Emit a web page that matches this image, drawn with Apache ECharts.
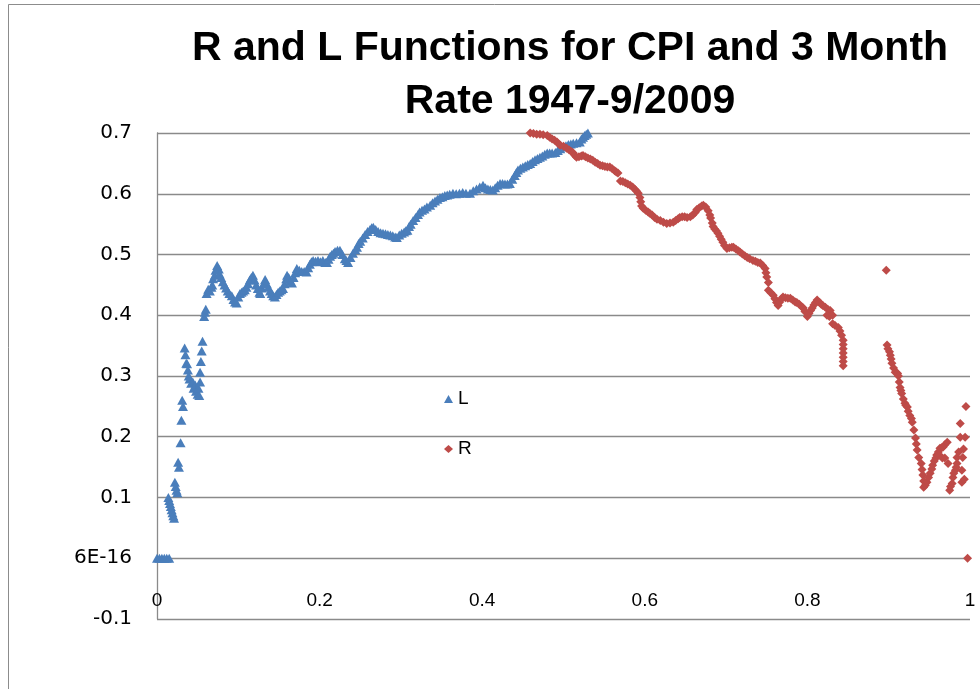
<!DOCTYPE html>
<html>
<head>
<meta charset="utf-8">
<title>R and L Functions</title>
<script src="https://cdn.jsdelivr.net/npm/echarts@6/dist/echarts.min.js"></script>
<style>
	html, body { margin: 0; padding: 0; background: #fff; }
	#main { width: 980px; height: 689px; }
</style>
</head>
<body>
<div id="main"></div>
<script>
/* global echarts */

var titleLines = ['R and L Functions for CPI and 3 Month', 'Rate 1947-9/2009']

var seriesNames = ['L', 'R']

var yTicks = [-0.1, 0, 0.1, 0.2, 0.3, 0.4, 0.5, 0.6, 0.7]
var yTickLabels = ['-0.1', '6E-16', '0.1', '0.2', '0.3', '0.4', '0.5', '0.6', '0.7']
var xTicks = [0, 0.2, 0.4, 0.6, 0.8, 1]
var xTickLabels = ['0', '0.2', '0.4', '0.6', '0.8', '1']

// L function
var lPoints = [
	[0,0],[0.003,0],[0.006,0],[0.009,0],[0.012,0],[0.015,0],
	[0.014,0.10],[0.015,0.095],[0.016,0.09],[0.017,0.085],[0.018,0.08],[0.019,0.075],[0.02,0.07],[0.021,0.066],
	[0.022,0.125],[0.023,0.118],[0.024,0.112],[0.025,0.108],
	[0.026,0.158],[0.027,0.15],[0.029,0.19],[0.03,0.227],[0.031,0.26],[0.032,0.25],
	[0.034,0.346],[0.035,0.335],[0.036,0.321],[0.037,0.32],
	[0.038,0.31],[0.039,0.30],[0.04,0.295],[0.042,0.288],[0.044,0.29],[0.045,0.28],[0.047,0.285],[0.048,0.275],[0.05,0.27],[0.052,0.268],[0.051,0.28],
	[0.053,0.29],[0.053,0.306],[0.054,0.324],[0.055,0.341],[0.056,0.357],
	[0.058,0.398],[0.059,0.405],[0.06,0.41],
	[0.061,0.436],[0.063,0.443],[0.065,0.44],[0.067,0.446],[0.068,0.45],
	[0.069,0.46],[0.071,0.466],[0.072,0.474],[0.074,0.482],[0.076,0.476],[0.077,0.468],
	[0.079,0.462],[0.081,0.455],[0.083,0.45],[0.085,0.445],[0.087,0.44],[0.089,0.436],[0.092,0.432],[0.094,0.426],[0.096,0.422],[0.098,0.42],
	[0.1,0.43],[0.102,0.436],[0.104,0.438],[0.106,0.44],[0.108,0.442],[0.11,0.446],[0.112,0.452],[0.114,0.458],[0.116,0.462],[0.118,0.466],
	[0.12,0.458],[0.122,0.45],[0.124,0.444],[0.126,0.438],[0.127,0.436],
	[0.129,0.445],[0.131,0.452],[0.133,0.459],[0.135,0.452],[0.137,0.446],[0.139,0.44],[0.141,0.436],[0.143,0.432],[0.145,0.43],
	[0.147,0.434],[0.149,0.438],[0.151,0.44],[0.153,0.442],[0.155,0.444],[0.157,0.452],[0.159,0.46],[0.16,0.466],
	[0.162,0.462],[0.164,0.456],[0.166,0.453],[0.168,0.462],[0.17,0.47],[0.172,0.477],[0.175,0.474],[0.178,0.472],[0.181,0.472],[0.184,0.471],
	[0.186,0.478],[0.188,0.484],[0.19,0.488],[0.192,0.49],[0.195,0.489],[0.198,0.49],[0.201,0.488],[0.204,0.49],[0.207,0.487],[0.209,0.487],
	[0.211,0.492],[0.213,0.497],[0.215,0.5],[0.217,0.502],[0.219,0.505],[0.222,0.507],[0.225,0.507],[0.228,0.5],[0.231,0.493],[0.233,0.49],[0.235,0.487],
	[0.238,0.495],[0.241,0.502],[0.244,0.508],[0.246,0.512],[0.248,0.518],[0.25,0.522],[0.253,0.527],[0.256,0.533],[0.259,0.538],[0.262,0.541],[0.264,0.544],[0.266,0.545],
	[0.269,0.541],[0.272,0.538],[0.275,0.536],[0.278,0.535],[0.281,0.534],[0.284,0.533],[0.287,0.532],[0.29,0.531],[0.293,0.529],[0.295,0.528],
	[0.298,0.532],[0.301,0.535],[0.304,0.537],[0.306,0.539],[0.308,0.54],[0.31,0.546],[0.312,0.55],[0.315,0.556],[0.318,0.561],[0.321,0.566],[0.323,0.57],
	[0.326,0.573],[0.329,0.575],[0.332,0.578],[0.336,0.581],[0.339,0.585],[0.342,0.588],[0.345,0.591],[0.348,0.594],[0.351,0.595],[0.354,0.597],[0.357,0.598],[0.36,0.599],
	[0.364,0.601],[0.368,0.6],[0.372,0.601],[0.376,0.602],[0.38,0.601],[0.385,0.601],[0.389,0.605],[0.393,0.608],[0.397,0.611],[0.401,0.614],
	[0.404,0.61],[0.407,0.608],[0.41,0.607],[0.413,0.606],[0.416,0.61],[0.419,0.614],[0.422,0.617],[0.425,0.617],[0.428,0.616],[0.431,0.616],[0.434,0.617],
	[0.437,0.624],[0.44,0.63],[0.442,0.635],[0.444,0.639],[0.447,0.642],[0.45,0.644],[0.453,0.646],[0.456,0.648],[0.459,0.65],
	[0.462,0.653],[0.465,0.656],[0.468,0.658],[0.471,0.66],[0.474,0.662],[0.477,0.665],[0.48,0.667],[0.483,0.667],[0.486,0.667],[0.49,0.668],
	[0.493,0.671],[0.496,0.674],[0.5,0.677],[0.503,0.679],[0.506,0.681],[0.509,0.682],[0.512,0.683],[0.516,0.684],[0.52,0.685],
	[0.522,0.69],[0.524,0.693],[0.526,0.696],[0.528,0.698],[0.53,0.7]
]

// R function
var rPoints = [
	[0.455,0.701],[0.459,0.7],[0.463,0.699],[0.467,0.698],[0.471,0.698],[0.475,0.697],[0.48,0.696],[0.483,0.693],[0.486,0.69],[0.489,0.688],
	[0.492,0.685],[0.494,0.682],[0.496,0.68],[0.5,0.678],[0.504,0.675],[0.507,0.672],[0.51,0.669],[0.512,0.667],[0.514,0.663],[0.516,0.66],
	[0.519,0.661],[0.522,0.662],[0.524,0.663],[0.527,0.661],[0.53,0.659],[0.533,0.657],[0.536,0.655],[0.539,0.652],[0.542,0.65],[0.545,0.647],
	[0.548,0.646],[0.551,0.645],[0.554,0.644],[0.557,0.644],[0.56,0.641],[0.563,0.638],[0.565,0.636],[0.567,0.634],
	[0.57,0.621],[0.573,0.62],[0.576,0.618],[0.579,0.616],[0.582,0.614],[0.585,0.611],[0.588,0.607],[0.59,0.604],[0.592,0.601],[0.594,0.594],
	[0.595,0.587],[0.596,0.58],[0.598,0.576],[0.601,0.573],[0.604,0.57],[0.606,0.568],[0.609,0.565],[0.612,0.561],[0.615,0.558],[0.619,0.556],
	[0.623,0.553],[0.627,0.551],[0.631,0.552],[0.635,0.553],[0.638,0.556],[0.641,0.559],[0.643,0.561],[0.646,0.562],[0.649,0.562],[0.652,0.561],
	[0.656,0.562],[0.659,0.565],[0.662,0.569],[0.664,0.574],[0.667,0.577],[0.67,0.58],[0.672,0.581],[0.675,0.578],[0.678,0.572],
	[0.68,0.565],[0.681,0.56],[0.683,0.552],[0.684,0.546],[0.686,0.542],[0.688,0.539],[0.69,0.535],[0.692,0.53],[0.694,0.525],[0.696,0.52],
	[0.698,0.515],[0.701,0.51],[0.704,0.511],[0.707,0.512],[0.709,0.512],[0.712,0.509],[0.715,0.506],[0.717,0.504],[0.72,0.501],[0.723,0.498],
	[0.726,0.495],[0.729,0.493],[0.733,0.49],[0.736,0.489],[0.739,0.487],[0.742,0.486],[0.745,0.482],[0.748,0.477],[0.749,0.47],[0.75,0.463],[0.752,0.454],
	[0.752,0.441],[0.755,0.437],[0.758,0.433],[0.76,0.427],[0.762,0.421],[0.764,0.416],[0.766,0.422],[0.768,0.427],[0.77,0.43],[0.773,0.429],
	[0.776,0.428],[0.779,0.428],[0.782,0.425],[0.785,0.422],[0.787,0.421],[0.79,0.418],[0.793,0.414],[0.795,0.412],[0.797,0.406],[0.8,0.398],
	[0.802,0.403],[0.804,0.408],[0.806,0.412],[0.808,0.417],[0.81,0.421],[0.812,0.425],[0.815,0.421],[0.817,0.418],[0.819,0.416],[0.822,0.413],
	[0.825,0.41],[0.828,0.408],[0.824,0.4],[0.827,0.398],[0.831,0.4],
	[0.831,0.386],[0.834,0.383],[0.838,0.38],[0.84,0.374],[0.842,0.367],[0.844,0.359],[0.844,0.352],[0.844,0.345],[0.844,0.338],[0.844,0.331],[0.844,0.324],[0.844,0.317],
	[0.897,0.474],
	[0.898,0.351],[0.899,0.345],[0.901,0.34],[0.902,0.334],[0.903,0.328],[0.904,0.321],[0.906,0.313],[0.908,0.306],[0.91,0.305],[0.911,0.304],
	[0.912,0.3],[0.913,0.29],[0.914,0.281],[0.915,0.276],[0.916,0.271],[0.918,0.262],[0.92,0.255],[0.921,0.252],[0.923,0.249],[0.924,0.242],
	[0.926,0.235],[0.928,0.23],[0.929,0.224],[0.931,0.211],[0.933,0.198],[0.934,0.188],[0.935,0.178],[0.937,0.166],[0.94,0.156],[0.941,0.146],
	[0.942,0.137],[0.943,0.127],[0.943,0.117],
	[0.945,0.12],[0.947,0.125],[0.949,0.133],[0.951,0.14],[0.953,0.147],[0.954,0.153],[0.956,0.16],[0.958,0.165],[0.959,0.17],[0.961,0.175],
	[0.963,0.181],[0.965,0.182],[0.967,0.183],[0.969,0.187],[0.972,0.191],[0.962,0.17],[0.966,0.165],[0.969,0.165],[0.973,0.156],
	[0.975,0.112],[0.976,0.118],[0.978,0.123],[0.979,0.133],[0.98,0.14],[0.982,0.145],[0.983,0.15],[0.984,0.156],[0.984,0.166],[0.986,0.175],
	[0.988,0.199],[0.988,0.222],[0.994,0.199],[0.991,0.166],[0.99,0.145],[0.99,0.125],[0.995,0.25],[0.992,0.18],[0.993,0.13],
	[0.997,0]
]

var chart = echarts.init(document.getElementById('main'), null, {renderer: 'canvas'})

function tickLabel(ticks, labels){
	return function(v){
		for(var i = 0; i < ticks.length; i++){
			if(Math.abs(ticks[i] - v) < 1e-9) return labels[i]
		}
		return ''
	}
}

var gridColor = '#8a8a8a'

chart.setOption({
	animation: false,
	backgroundColor: '#fff',
	title: {
		text: titleLines.join('\n'),
		left: 565,
		top: 17,
		textAlign: 'center',
		textStyle: {
			fontFamily: 'Liberation Sans, sans-serif',
			fontWeight: 'bold',
			fontSize: 41,
			lineHeight: 53,
			color: '#000'
		}
	},
	graphic: [{
		type: 'rect',
		shape: {x: 8.5, y: 4.5, width: 1200, height: 1200},
		style: {fill: null, stroke: '#8c8c8c', lineWidth: 1},
		silent: true
	}],
	legend: {
		orient: 'vertical',
		left: 444,
		top: 389,
		padding: 0,
		itemGap: 30,
		itemWidth: 9,
		itemHeight: 8,
		textStyle: {fontFamily: 'Liberation Sans, sans-serif', fontSize: 19, color: '#000', lineHeight: 20},
		data: [{name: seriesNames[0], icon: 'triangle'}, {name: seriesNames[1], icon: 'diamond'}]
	},
	grid: {left: 157, right: 10, top: 133, bottom: 70},
	xAxis: {
		type: 'value',
		min: xTicks[0],
		max: xTicks[xTicks.length - 1],
		interval: 0.2,
		axisLine: {show: false},
		axisTick: {show: false},
		splitLine: {show: false},
		axisLabel: {
			inside: true,
			margin: 9,
			fontFamily: 'Liberation Sans, sans-serif',
			fontSize: 19,
			color: '#000',
			formatter: tickLabel(xTicks, xTickLabels)
		}
	},
	yAxis: {
		type: 'value',
		min: yTicks[0],
		max: yTicks[yTicks.length - 1],
		interval: 0.1,
		axisLine: {show: true, onZero: false, lineStyle: {color: gridColor, width: 1.3}},
		axisTick: {show: false},
		splitLine: {show: true, lineStyle: {color: gridColor, width: 1.3}},
		axisLabel: {
			margin: 25,
			fontFamily: 'DejaVu Sans, sans-serif',
			fontSize: 20,
			color: '#000',
			formatter: tickLabel(yTicks, yTickLabels)
		}
	},
	series: [{
		name: seriesNames[0],
		type: 'scatter',
		symbol: 'triangle',
		symbolSize: [10, 9],
		itemStyle: {color: '#4a7ebb', opacity: 1},
		data: lPoints
	}, {
		name: seriesNames[1],
		type: 'scatter',
		symbol: 'diamond',
		symbolSize: [9, 9],
		itemStyle: {color: '#be4b48', opacity: 1},
		data: rPoints
	}]
})
</script>
</body>
</html>
